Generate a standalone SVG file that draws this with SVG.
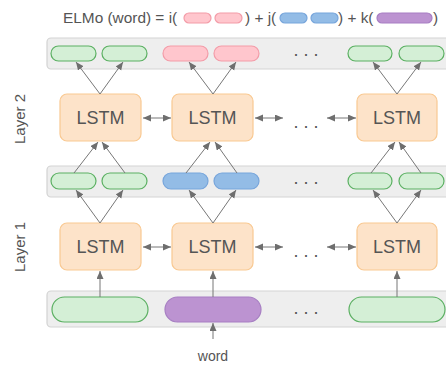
<svg xmlns="http://www.w3.org/2000/svg" width="446" height="365" viewBox="0 0 446 365">
<defs>
<marker id="ah" markerUnits="userSpaceOnUse" markerWidth="9" markerHeight="8" refX="8" refY="3.5" orient="auto-start-reverse">
<path d="M0,0 L8,3.5 L0,7 z" fill="#6e6e6e"/>
</marker>
</defs>
<style>
text{font-family:"Liberation Sans",Arial,sans-serif;fill:#555}
.band{fill:#eeeeee;stroke:#d3d3d3;stroke-width:1.2}
.g{fill:#d4efd6;stroke:#5bb062;stroke-width:1.2}
.p{fill:#ffc6cd;stroke:#f39ca8;stroke-width:1.2}
.b{fill:#93bce6;stroke:#77a5db;stroke-width:1.2}
.v{fill:#bc93d1;stroke:#a77fc3;stroke-width:1.2}
.lstm{fill:#fde3c9;stroke:#f9c992;stroke-width:1.2}
.lt{font-size:18px;text-anchor:middle}
.dots{font-size:18px;text-anchor:middle;fill:#555}
.lab{font-size:15px;text-anchor:middle}
.tt{font-size:15.4px}
.c{stroke:#777;stroke-width:1;fill:none}
.e{marker-end:url(#ah)}
.d{marker-start:url(#ah);marker-end:url(#ah)}
</style>

<g id="title">
<text class="tt" x="63" y="23">ELMo (word) = i(</text>
<rect class="p" x="184" y="13" width="27" height="10" rx="5"/>
<rect class="p" x="215" y="13" width="27" height="10" rx="5"/>
<text class="tt" x="245" y="23">) + j(</text>
<rect class="b" x="280" y="13" width="27" height="10" rx="5"/>
<rect class="b" x="311" y="13" width="27" height="10" rx="5"/>
<text class="tt" x="338" y="23">) + k(</text>
<rect class="v" x="377" y="13" width="55" height="10" rx="5"/>
<text class="tt" x="433" y="23">)</text>
</g>

<g id="label-layer2"><text class="lab" transform="translate(25,119) rotate(-90)">Layer 2</text></g>
<g id="label-layer1"><text class="lab" transform="translate(25,247) rotate(-90)">Layer 1</text></g>

<g id="band-top">
<rect class="band" x="47" y="38" width="410" height="31" rx="4"/>
<rect class="g" x="51" y="46" width="45" height="15" rx="7.5"/>
<rect class="g" x="102" y="46" width="45" height="15" rx="7.5"/>
<rect class="p" x="163" y="46" width="45" height="15" rx="7.5"/>
<rect class="p" x="214" y="46" width="45" height="15" rx="7.5"/>
<text class="dots" x="306" y="56">. . .</text>
<rect class="g" x="348" y="46" width="44" height="15" rx="7.5"/>
<rect class="g" x="399" y="46" width="45" height="15" rx="7.5"/>
</g>

<g id="band-mid">
<rect class="band" x="47" y="166" width="410" height="31" rx="4"/>
<rect class="g" x="51" y="173" width="45" height="16" rx="8"/>
<rect class="g" x="102" y="173" width="45" height="16" rx="8"/>
<rect class="b" x="163" y="173" width="45" height="16" rx="8"/>
<rect class="b" x="214" y="173" width="45" height="16" rx="8"/>
<text class="dots" x="306" y="184">. . .</text>
<rect class="g" x="348" y="173" width="44" height="16" rx="8"/>
<rect class="g" x="399" y="173" width="45" height="16" rx="8"/>
</g>

<g id="band-bottom">
<rect class="band" x="47" y="291" width="410" height="36" rx="4"/>
<rect class="g" x="52" y="297" width="96" height="25" rx="12.5"/>
<rect class="v" x="165" y="297" width="96" height="25" rx="12.5"/>
<text class="dots" x="306" y="314">. . .</text>
<rect class="g" x="349" y="297" width="96" height="25" rx="12.5"/>
</g>

<g id="lstm2-1"><rect class="lstm" x="60" y="94" width="81" height="47" rx="7"/><text class="lt" x="100.5" y="124">LSTM</text></g>
<g id="lstm2-2"><rect class="lstm" x="172" y="94" width="81" height="47" rx="7"/><text class="lt" x="212.5" y="124">LSTM</text></g>
<g id="lstm2-3"><rect class="lstm" x="357" y="94" width="80" height="47" rx="7"/><text class="lt" x="397" y="124">LSTM</text></g>
<g id="lstm1-1"><rect class="lstm" x="60" y="223" width="81" height="47" rx="7"/><text class="lt" x="100.5" y="253">LSTM</text></g>
<g id="lstm1-2"><rect class="lstm" x="172" y="223" width="81" height="47" rx="7"/><text class="lt" x="212.5" y="253">LSTM</text></g>
<g id="lstm1-3"><rect class="lstm" x="357" y="223" width="80" height="47" rx="7"/><text class="lt" x="397" y="253">LSTM</text></g>

<g id="dots-rows">
<text class="dots" x="306" y="128">. . .</text>
<text class="dots" x="306" y="257">. . .</text>
</g>

<g id="word"><text x="213" y="361" style="font-size:14px;text-anchor:middle">word</text></g>

<g id="connectors">
<path class="c e" d="M100,94 L76,62"/>
<path class="c e" d="M100,94 L123,62"/>
<path class="c e" d="M213,94 L189,62"/>
<path class="c e" d="M213,94 L236,62"/>
<path class="c e" d="M397,94 L373,62"/>
<path class="c e" d="M397,94 L421,62"/>
<path class="c e" d="M74,173 L98,142"/>
<path class="c e" d="M125,173 L102,142"/>
<path class="c e" d="M186,173 L210,142"/>
<path class="c e" d="M237,173 L215,142"/>
<path class="c e" d="M371,173 L395,142"/>
<path class="c e" d="M421,173 L399,142"/>
<path class="c e" d="M100,223 L76,190"/>
<path class="c e" d="M100,223 L123,190"/>
<path class="c e" d="M213,223 L189,190"/>
<path class="c e" d="M213,223 L236,190"/>
<path class="c e" d="M397,223 L373,190"/>
<path class="c e" d="M397,223 L421,190"/>
<path class="c e" d="M100,297 L100,271"/>
<path class="c e" d="M213,297 L213,271"/>
<path class="c e" d="M397,297 L397,271"/>
<path class="c e" d="M213,339 L213,323"/>
<path class="c d" d="M143,118 L171,118"/>
<path class="c d" d="M255,118 L283,118"/>
<path class="c d" d="M327,118 L356,118"/>
<path class="c d" d="M143,247 L171,247"/>
<path class="c d" d="M255,247 L283,247"/>
<path class="c d" d="M327,247 L356,247"/>
</g>
</svg>
